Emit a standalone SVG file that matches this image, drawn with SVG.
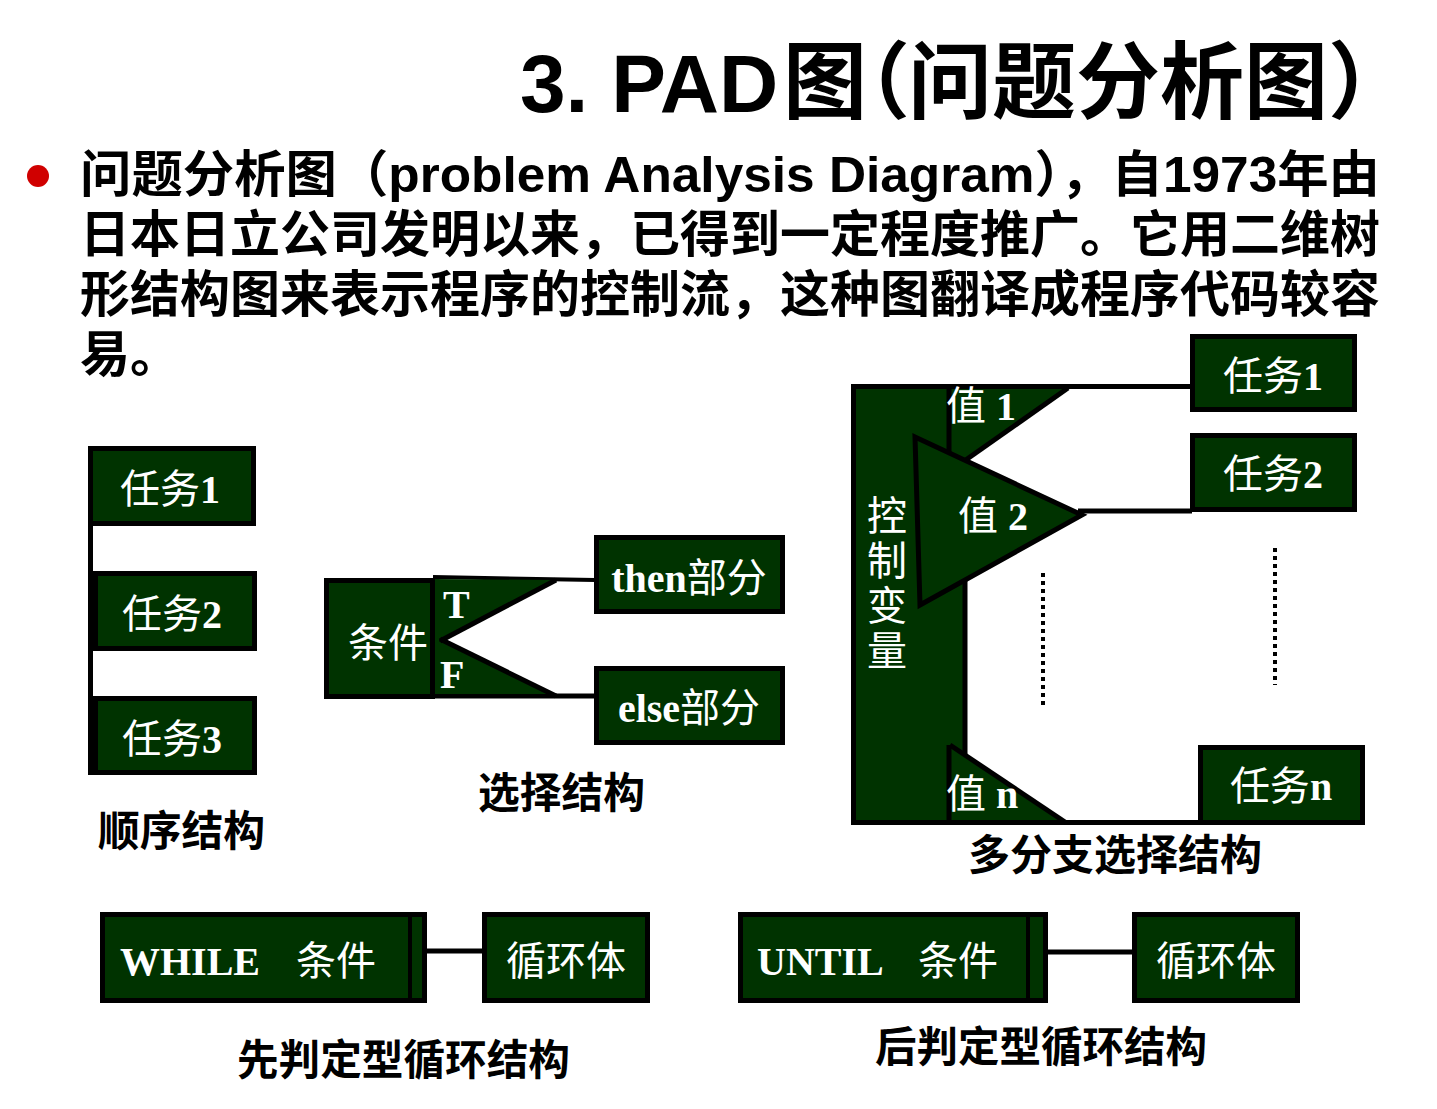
<svg xmlns="http://www.w3.org/2000/svg" width="1437" height="1109" viewBox="0 0 1437 1109">
<style>
.box{fill:#003300;stroke:#000;stroke-width:5}
.tri{fill:#003300;stroke:none}
.bt{fill:#fff;font-family:"Liberation Serif","Noto Sans CJK SC",serif;font-size:40px}
.lat{font-weight:bold}
.lbl{font-family:"Liberation Sans","Noto Sans CJK SC",sans-serif;font-weight:bold;font-size:42px;fill:#000}
.body{font-family:"Liberation Sans","Noto Sans CJK SC",sans-serif;font-weight:bold;font-size:50px;fill:#000}
.ln{stroke:#000;stroke-width:5;fill:none}
.dot{stroke:#000;stroke-width:4;stroke-dasharray:4 4;fill:none}
</style>
<rect width="1437" height="1109" fill="#fff"/>
<g id="title">
<text y="112" font-family="Liberation Sans,'Noto Sans CJK SC',sans-serif" font-weight="bold" font-size="84"><tspan x="520" font-size="82">3. PAD</tspan><tspan x="783">图</tspan><tspan x="826">（</tspan><tspan x="908">问题分析图</tspan><tspan x="1328">）</tspan></text>
</g>
<g id="intro">
<circle cx="38" cy="176" r="11" fill="#d00000"/>
<text class="body" x="80" y="192" textLength="1300" lengthAdjust="spacingAndGlyphs">问题分析图（problem Analysis Diagram），自1973年由</text>
<text class="body" x="80" y="252" textLength="1300" lengthAdjust="spacingAndGlyphs">日本日立公司发明以来，已得到一定程度推广。它用二维树</text>
<text class="body" x="80" y="312" textLength="1300" lengthAdjust="spacingAndGlyphs">形结构图来表示程序的控制流，这种图翻译成程序代码较容</text>
<text class="body" x="80" y="372">易。</text>
</g>
<g id="connectors">
<line class="ln" x1="90.5" y1="446" x2="90.5" y2="775"/>
<line x1="433" y1="577" x2="595" y2="580" stroke="#000" stroke-width="4"/>
<line class="ln" x1="433" y1="696" x2="596" y2="696"/>
<line class="ln" x1="853" y1="386.5" x2="1192" y2="386.5"/>
<line class="ln" x1="853" y1="822.5" x2="1200" y2="822.5"/>
<line class="ln" x1="1078" y1="511" x2="1192" y2="511"/>
<line class="ln" x1="427" y1="951" x2="484" y2="951"/>
<line class="ln" x1="1048" y1="952" x2="1134" y2="952"/>
</g>
<g id="seq-task1"><rect class="box" x="90.5" y="448.5" width="163" height="75"/><text class="bt" x="170" y="503" text-anchor="middle">任务<tspan class="lat">1</tspan></text></g>
<g id="seq-task2"><rect class="box" x="95.5" y="573.5" width="159" height="75"/><text class="bt" x="172" y="628" text-anchor="middle">任务<tspan class="lat">2</tspan></text></g>
<g id="seq-task3"><rect class="box" x="95.5" y="698.5" width="159" height="74"/><text class="bt" x="172" y="753" text-anchor="middle">任务<tspan class="lat">3</tspan></text></g>
<g id="seq-label"><text class="lbl" x="98" y="846" textLength="167" lengthAdjust="spacingAndGlyphs">顺序结构</text></g>

<g id="sel-cond">
<rect class="box" x="326.5" y="580.5" width="106" height="116"/>
<polygon class="tri" points="435,579 555,580 441,640 555,694 435,694"/>
<line class="ln" x1="556" y1="580" x2="440" y2="641" stroke-width="6"/>
<line class="ln" x1="440" y1="639" x2="556" y2="696" stroke-width="6"/>
<text class="bt" x="388" y="657" text-anchor="middle">条件</text>
<text class="bt lat" x="443" y="618">T</text>
<text class="bt lat" x="440" y="688">F</text>
</g>
<g id="sel-then"><rect class="box" x="596.5" y="537.5" width="186" height="74"/><text class="bt" x="689" y="592" text-anchor="middle"><tspan class="lat">then</tspan>部分</text></g>
<g id="sel-else"><rect class="box" x="596.5" y="668.5" width="186" height="74"/><text class="bt" x="689" y="722" text-anchor="middle"><tspan class="lat">else</tspan>部分</text></g>
<g id="sel-label"><text class="lbl" x="478" y="808" textLength="167" lengthAdjust="spacingAndGlyphs">选择结构</text></g>

<g id="case-var">
<rect class="box" x="853.5" y="386.5" width="111.5" height="436"/>
<polygon class="tri" points="949,389 1068,389 962,462 949,462"/>
<line class="ln" x1="949" y1="389" x2="949" y2="462"/>
<line class="ln" x1="1068" y1="388" x2="960" y2="464"/>
<polygon class="tri" points="949,745 1064,820 949,820"/>
<line class="ln" x1="949" y1="745" x2="949" y2="822"/>
<line class="ln" x1="950" y1="745" x2="1065" y2="822"/>
<polygon class="box" points="915,437 1082,515 920,605"/>
<text class="bt" font-size="38" x="887" y="530" text-anchor="middle">控</text>
<text class="bt" font-size="38" x="887" y="575" text-anchor="middle">制</text>
<text class="bt" font-size="38" x="887" y="620" text-anchor="middle">变</text>
<text class="bt" font-size="38" x="887" y="665" text-anchor="middle">量</text>
<text class="bt" font-size="38" x="946" y="420">值 <tspan class="lat">1</tspan></text>
<text class="bt" font-size="38" x="958" y="530">值 <tspan class="lat">2</tspan></text>
<text class="bt" font-size="38" x="946" y="808">值 <tspan class="lat">n</tspan></text>
<line class="dot" x1="1043" y1="573" x2="1043" y2="708"/>
<line class="dot" x1="1275" y1="548" x2="1275" y2="685"/>
</g>
<g id="case-task1"><rect class="box" x="1192.5" y="336.5" width="162" height="73"/><text class="bt" x="1273" y="390" text-anchor="middle">任务<tspan class="lat">1</tspan></text></g>
<g id="case-task2"><rect class="box" x="1192.5" y="435.5" width="162" height="74"/><text class="bt" x="1273" y="488" text-anchor="middle">任务<tspan class="lat">2</tspan></text></g>
<g id="case-taskn"><rect class="box" x="1200.5" y="747.5" width="162" height="75"/><text class="bt" x="1281" y="800" text-anchor="middle">任务<tspan class="lat">n</tspan></text></g>
<g id="case-label"><text class="lbl" x="968" y="870" textLength="294" lengthAdjust="spacingAndGlyphs">多分支选择结构</text></g>

<g id="while-cond"><rect class="box" x="102.5" y="914.5" width="322" height="86"/><line x1="410" y1="917" x2="410" y2="998" stroke="#000" stroke-width="4"/><text class="bt" x="120" y="975"><tspan class="lat">WHILE</tspan><tspan x="296">条件</tspan></text></g>
<g id="while-body"><rect class="box" x="484.5" y="914.5" width="163" height="86"/><text class="bt" x="566" y="975" text-anchor="middle">循环体</text></g>
<g id="while-label"><text class="lbl" x="237" y="1075" textLength="333" lengthAdjust="spacingAndGlyphs">先判定型循环结构</text></g>
<g id="until-cond"><rect class="box" x="740.5" y="914.5" width="305" height="86"/><line x1="1028" y1="917" x2="1028" y2="998" stroke="#000" stroke-width="4"/><text class="bt" x="757" y="975"><tspan class="lat">UNTIL</tspan><tspan x="918">条件</tspan></text></g>
<g id="until-body"><rect class="box" x="1134.5" y="914.5" width="163" height="86"/><text class="bt" x="1216" y="975" text-anchor="middle">循环体</text></g>
<g id="until-label"><text class="lbl" x="875" y="1062" textLength="332" lengthAdjust="spacingAndGlyphs">后判定型循环结构</text></g>
</svg>
